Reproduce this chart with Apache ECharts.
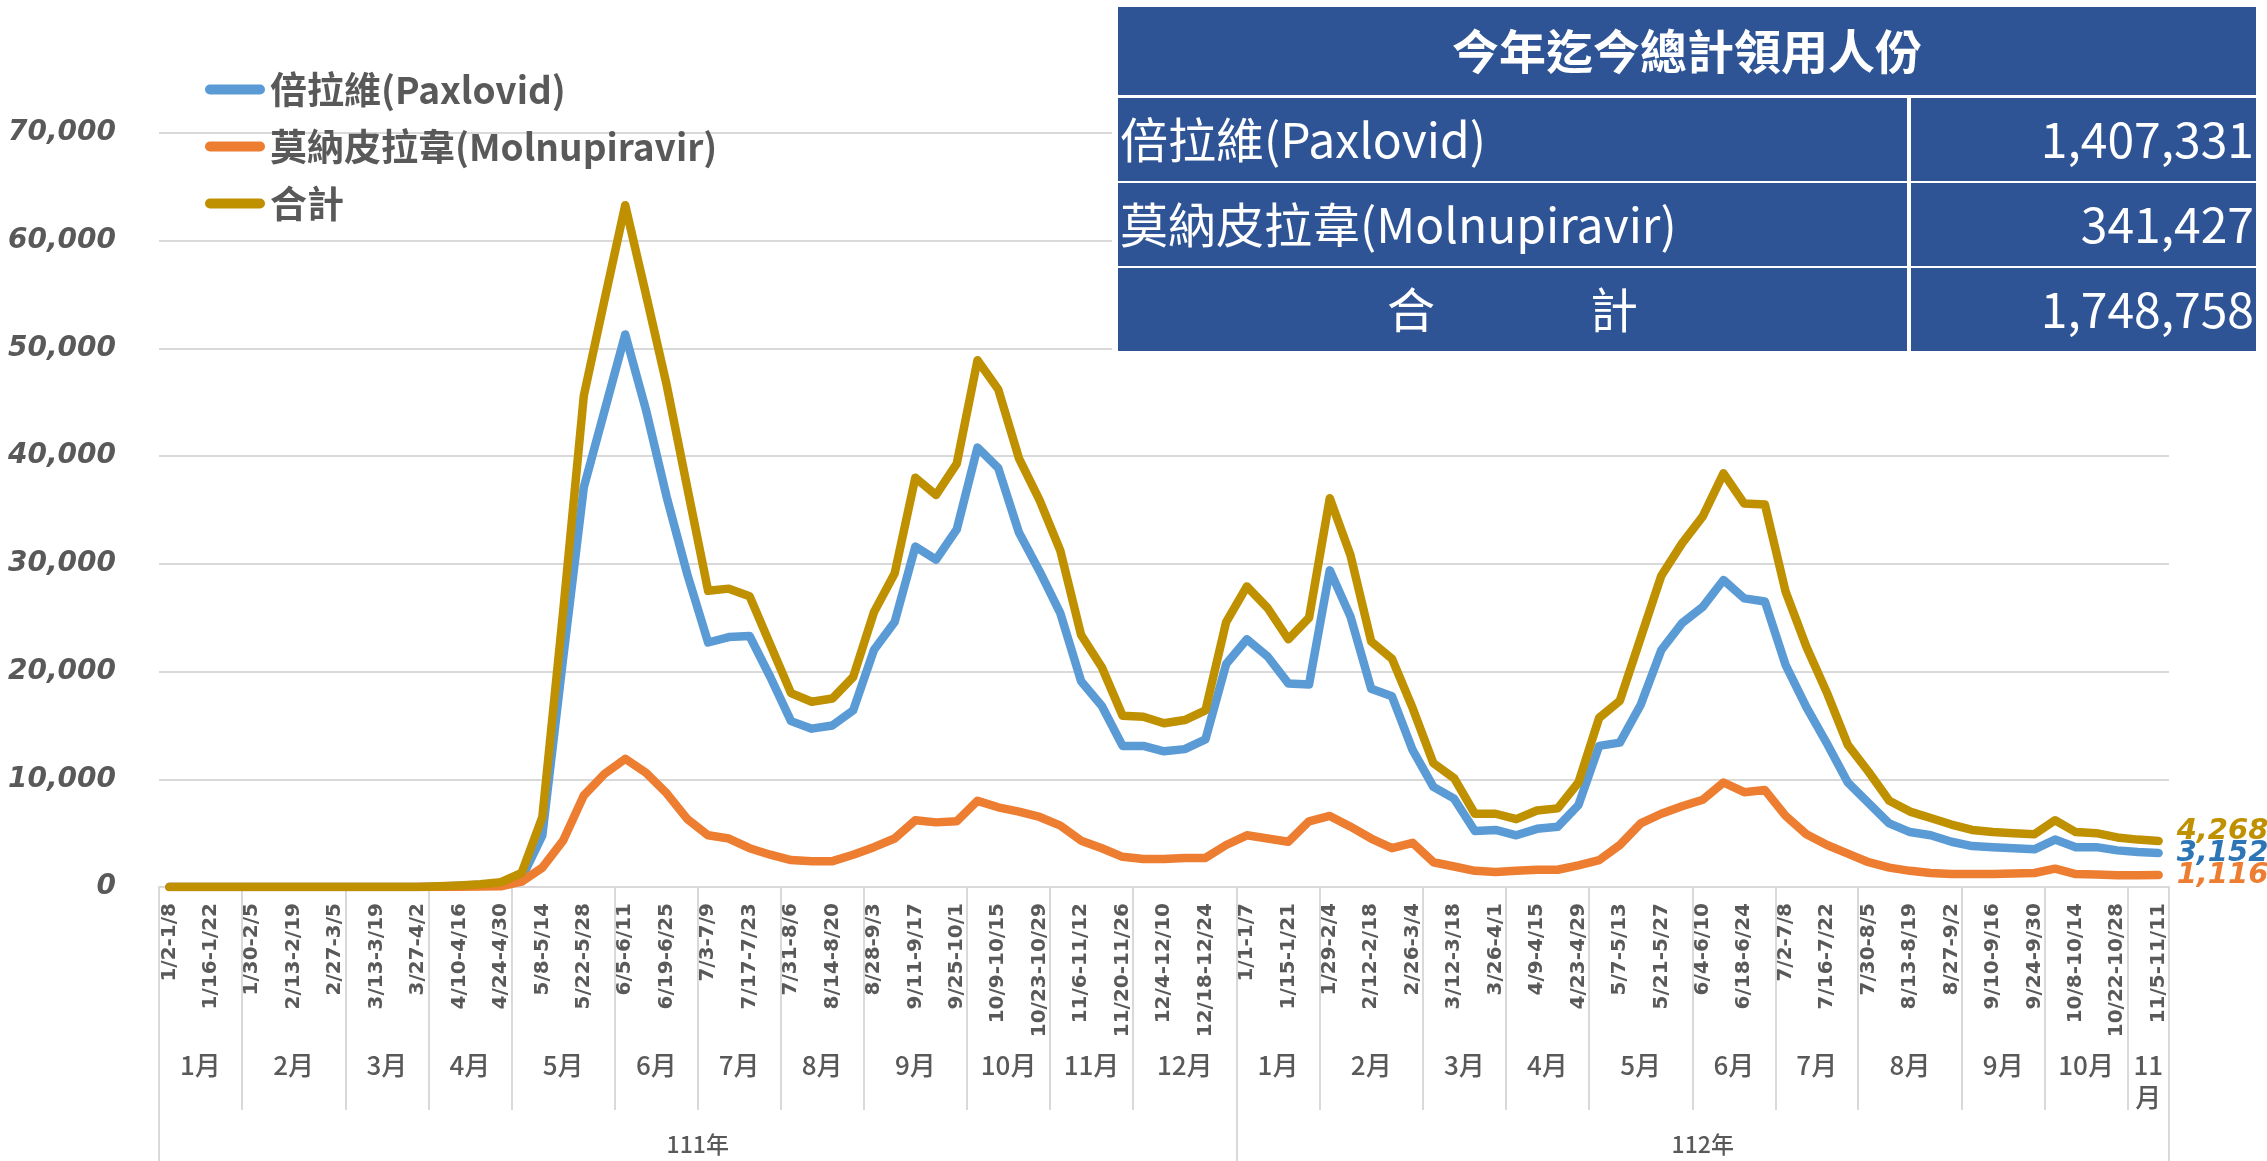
<!DOCTYPE html>
<html lang="zh-Hant">
<head>
    <meta charset="UTF-8">
    <title>抗病毒口服藥領用人份</title>
    <script src="https://cdn.jsdelivr.net/npm/echarts@6/dist/echarts.min.js"></script>
    <style>
        html, body {
            margin: 0;
            padding: 0;
            background: #fff;
        }
        #chart {
            width: 2267px;
            height: 1161px;
        }
    </style>
</head>
<body>
    <div id="chart"></div>
    <script>
        // 每週區間 (111年 1/2 起至 112年 11/11)
        const weeks = [
            '1/2-1/8', '1/9-1/15', '1/16-1/22', '1/23-1/29', '1/30-2/5', '2/6-2/12', '2/13-2/19', '2/20-2/26',
            '2/27-3/5', '3/6-3/12', '3/13-3/19', '3/20-3/26', '3/27-4/2', '4/3-4/9', '4/10-4/16', '4/17-4/23',
            '4/24-4/30', '5/1-5/7', '5/8-5/14', '5/15-5/21', '5/22-5/28', '5/29-6/4', '6/5-6/11', '6/12-6/18',
            '6/19-6/25', '6/26-7/2', '7/3-7/9', '7/10-7/16', '7/17-7/23', '7/24-7/30', '7/31-8/6', '8/7-8/13',
            '8/14-8/20', '8/21-8/27', '8/28-9/3', '9/4-9/10', '9/11-9/17', '9/18-9/24', '9/25-10/1', '10/2-10/8',
            '10/9-10/15', '10/16-10/22', '10/23-10/29', '10/30-11/5', '11/6-11/12', '11/13-11/19', '11/20-11/26', '11/27-12/3',
            '12/4-12/10', '12/11-12/17', '12/18-12/24', '12/25-12/31',
            '1/1-1/7', '1/8-1/14', '1/15-1/21', '1/22-1/28', '1/29-2/4', '2/5-2/11', '2/12-2/18', '2/19-2/25',
            '2/26-3/4', '3/5-3/11', '3/12-3/18', '3/19-3/25', '3/26-4/1', '4/2-4/8', '4/9-4/15', '4/16-4/22',
            '4/23-4/29', '4/30-5/6', '5/7-5/13', '5/14-5/20', '5/21-5/27', '5/28-6/3', '6/4-6/10', '6/11-6/17',
            '6/18-6/24', '6/25-7/1', '7/2-7/8', '7/9-7/15', '7/16-7/22', '7/23-7/29', '7/30-8/5', '8/6-8/12',
            '8/13-8/19', '8/20-8/26', '8/27-9/2', '9/3-9/9', '9/10-9/16', '9/17-9/23', '9/24-9/30', '10/1-10/7',
            '10/8-10/14', '10/15-10/21', '10/22-10/28', '10/29-11/4', '11/5-11/11'
        ];

        // 月份分組 (每組週數)
        const monthNames = ['1月', '2月', '3月', '4月', '5月', '6月', '7月', '8月', '9月', '10月', '11月', '12月',
            '1月', '2月', '3月', '4月', '5月', '6月', '7月', '8月', '9月', '10月', '11月'];
        const monthWeeks = [4, 5, 4, 4, 5, 4, 4, 4, 5, 4, 4, 5,
            4, 5, 4, 4, 5, 4, 4, 5, 4, 4, 2];

        // 年度分組
        const yearNames = ['111年', '112年'];
        const yearWeeks = [52, 45];

        const paxlovid = [
            0, 0, 0, 0, 0, 0, 0, 0, 0, 0, 0, 0, 0, 50, 120, 200,
            380, 800, 4800, 21200, 37100, 44200, 51300, 44300, 36200, 29000, 22700, 23200, 23300, 19500, 15400, 14700,
            15000, 16400, 22000, 24600, 31600, 30400, 33200, 40800, 38900, 32900, 29300, 25400, 19100, 16800, 13100, 13100,
            12600, 12800, 13700, 20700,
            23000, 21400, 18900, 18800, 29400, 25100, 18400, 17700, 12700, 9300, 8200, 5200, 5300, 4800, 5400, 5600,
            7600, 13100, 13400, 16900, 22000, 24500, 26000, 28500, 26800, 26500, 20600, 16700, 13300, 9700, 7800, 5900,
            5100, 4800, 4200, 3800, 3700, 3600, 3500, 4400, 3700, 3700, 3400, 3250, 3152
        ];
        const molnupiravir = [
            0, 0, 0, 0, 0, 0, 0, 0, 0, 0, 0, 0, 0, 10, 20, 40,
            60, 500, 1800, 4300, 8500, 10500, 11900, 10600, 8700, 6300, 4800, 4500, 3600, 3000, 2500, 2400,
            2400, 3000, 3700, 4500, 6200, 6000, 6100, 8000, 7400, 7000, 6500, 5700, 4300, 3600, 2800, 2600,
            2600, 2700, 2700, 3900,
            4800, 4500, 4200, 6100, 6600, 5600, 4500, 3600, 4100, 2300, 1900, 1500, 1400, 1500, 1600, 1600,
            2000, 2500, 3900, 5900, 6800, 7500, 8100, 9700, 8800, 9000, 6600, 4900, 3900, 3100, 2300, 1800,
            1500, 1300, 1200, 1200, 1200, 1250, 1300, 1700, 1200, 1150, 1100, 1100, 1116
        ];
        const total = [
            0, 0, 0, 0, 0, 0, 0, 0, 0, 0, 0, 0, 0, 60, 150, 250,
            450, 1300, 6500, 25500, 45600, 54500, 63300, 55000, 46600, 37000, 27500, 27700, 27000, 22500, 18000, 17200,
            17500, 19500, 25500, 29100, 38000, 36400, 39300, 48900, 46200, 39800, 35900, 31200, 23400, 20400, 15900, 15800,
            15200, 15500, 16400, 24600,
            27900, 25900, 23000, 25000, 36100, 30800, 22800, 21200, 16600, 11500, 10100, 6800, 6800, 6300, 7100, 7300,
            9700, 15700, 17300, 23100, 28900, 31900, 34400, 38400, 35600, 35500, 27400, 22300, 18000, 13200, 10700, 8000,
            7000, 6400, 5800, 5300, 5100, 5000, 4900, 6200, 5100, 5000, 4600, 4400, 4268
        ];

        // 右上角統計表
        const tableTitle = '今年迄今總計領用人份';
        const tableNames = ['倍拉維(Paxlovid)', '莫納皮拉韋(Molnupiravir)', '合　　　 計'];
        const tableValues = [1407331, 341427, 1748758];

        const seriesNames = ['倍拉維(Paxlovid)', '莫納皮拉韋(Molnupiravir)', '合計'];
        const lineColors = ['#5B9BD5', '#ED7D31', '#BF9000'];
        const endLabelColors = ['#2E75B6', '#ED7D31', '#BF9000'];

        const fmt = v => Number(v).toLocaleString('en-US');
        const cjk = "'Noto Sans CJK TC', 'Noto Sans CJK SC', sans-serif";
        const gray = '#595959';
        const gridColor = '#D9D9D9';

        // 以半週為單位的刻度點, 用於月份及年度分組軸
        const halfSlots = [];
        for (let i = 0; i <= weeks.length * 2; i++) halfSlots.push(String(i));

        function buildGroups(names, sizes) {
            const labels = {};
            const edges = new Set([0]);
            let start = 0;
            names.forEach((name, k) => {
                labels[2 * start + sizes[k]] = sizes[k] <= 2 ? name.replace('月', '\n月') : name;
                start += sizes[k];
                edges.add(2 * start);
            });
            return { labels, edges };
        }
        const monthGroups = buildGroups(monthNames, monthWeeks);
        const yearGroups = buildGroups(yearNames, yearWeeks);

        function groupAxis(groups, tickLength, labelMargin, fontSize) {
            return {
                type: 'category',
                position: 'bottom',
                boundaryGap: false,
                data: halfSlots,
                axisLine: { show: false },
                axisTick: {
                    show: true,
                    interval: i => groups.edges.has(i),
                    length: tickLength,
                    lineStyle: { color: gridColor, width: 2 }
                },
                axisLabel: {
                    interval: i => groups.labels[i] !== undefined,
                    formatter: (v, i) => groups.labels[i] || '',
                    margin: labelMargin,
                    color: gray,
                    fontSize: fontSize,
                    fontWeight: 500,
                    lineHeight: fontSize + 6,
                    fontFamily: cjk
                },
                splitLine: { show: false }
            };
        }

        const grid = { left: 159, right: 98, top: 133, bottom: 274 };

        // 表格圖形
        const tableLeft = 1118, tableRight = 2256, colSplit = 1907;
        const rowTops = [7, 98, 183, 268];
        const rowBottoms = [95, 181, 266, 351];
        const tableBlue = '#2F5496';
        const tableFont = "'Noto Sans CJK TC', 'Open Sans', sans-serif";
        const graphics = [{
            type: 'rect', z: 100,
            shape: { x: tableLeft - 6, y: 0, width: tableRight - tableLeft + 12, height: rowBottoms[3] + 6 },
            style: { fill: '#fff' }
        }, {
            type: 'rect', z: 101,
            shape: { x: tableLeft, y: rowTops[0], width: tableRight - tableLeft, height: rowBottoms[0] - rowTops[0] },
            style: { fill: tableBlue }
        }, {
            type: 'text', z: 102,
            x: (tableLeft + tableRight) / 2, y: (rowTops[0] + rowBottoms[0]) / 2,
            style: {
                text: tableTitle, fill: '#fff', fontSize: 47, fontWeight: 'bold', fontFamily: tableFont,
                align: 'center', verticalAlign: 'middle', textAlign: 'center', textVerticalAlign: 'middle'
            }
        }];
        tableNames.forEach((name, k) => {
            const top = rowTops[k + 1], bottom = rowBottoms[k + 1];
            const mid = (top + bottom) / 2;
            const isTotal = k === tableNames.length - 1;
            graphics.push({
                type: 'rect', z: 101,
                shape: { x: tableLeft, y: top, width: colSplit - tableLeft, height: bottom - top },
                style: { fill: tableBlue }
            }, {
                type: 'rect', z: 101,
                shape: { x: colSplit + 4, y: top, width: tableRight - colSplit - 4, height: bottom - top },
                style: { fill: tableBlue }
            }, {
                type: 'text', z: 102,
                x: isTotal ? (tableLeft + colSplit) / 2 : tableLeft + 2, y: mid,
                style: {
                    text: name, fill: '#fff', fontSize: 48, fontFamily: tableFont,
                    align: isTotal ? 'center' : 'left', verticalAlign: 'middle',
                    textAlign: isTotal ? 'center' : 'left', textVerticalAlign: 'middle'
                }
            }, {
                type: 'text', z: 102,
                x: tableRight - 2, y: mid,
                style: {
                    text: fmt(tableValues[k]), fill: '#fff', fontSize: 48, fontFamily: tableFont,
                    align: 'right', verticalAlign: 'middle', textAlign: 'right', textVerticalAlign: 'middle'
                }
            });
        });

        const seriesData = [paxlovid, molnupiravir, total];

        const chart = echarts.init(document.getElementById('chart'));
        chart.setOption({
            animation: false,
            backgroundColor: '#fff',
            grid: Object.assign({ outerBoundsMode: 'none', containLabel: false }, grid),
            legend: {
                orient: 'vertical',
                left: 200,
                top: 66,
                itemWidth: 60,
                itemHeight: 11,
                itemGap: 20,
                icon: 'path://M5 0H55A5 5 0 0 1 55 10H5A5 5 0 0 1 5 0Z',
                textStyle: { fontSize: 37, fontWeight: 'bold', color: gray, fontFamily: cjk },
                data: seriesNames
            },
            xAxis: [{
                type: 'category',
                position: 'bottom',
                data: weeks,
                boundaryGap: true,
                axisLine: { show: true, lineStyle: { color: gridColor, width: 2 } },
                axisTick: { show: false },
                axisLabel: {
                    interval: 1,
                    rotate: 90,
                    margin: 16,
                    color: gray,
                    fontSize: 20,
                    fontWeight: 'bold',
                    fontFamily: "'DejaVu Sans', sans-serif"
                },
                splitLine: { show: false }
            },
            groupAxis(monthGroups, 223, 162, 26),
            groupAxis(yearGroups, 274, 243, 23)
            ],
            yAxis: {
                type: 'value',
                min: 0,
                max: 70000,
                interval: 10000,
                axisLine: { show: false },
                axisTick: { show: false },
                axisLabel: {
                    margin: 43,
                    color: gray,
                    fontSize: 28,
                    fontStyle: 'italic',
                    fontWeight: 'bold',
                    fontFamily: "'DejaVu Sans', sans-serif",
                    formatter: v => fmt(v)
                },
                splitLine: { lineStyle: { color: gridColor, width: 2 } }
            },
            series: seriesData.map((data, k) => ({
                name: seriesNames[k],
                type: 'line',
                xAxisIndex: 0,
                data: data,
                showSymbol: false,
                symbol: 'none',
                color: lineColors[k],
                lineStyle: { width: 8.5, color: lineColors[k], join: 'round', cap: 'round' },
                z: 2 + k,
                endLabel: {
                    show: true,
                    formatter: p => fmt(p.value),
                    color: endLabelColors[k],
                    fontSize: 29,
                    fontStyle: 'italic',
                    fontWeight: 'bold',
                    fontFamily: "'DejaVu Sans', sans-serif",
                    distance: 18,
                    offset: k === 2 ? [0, -10] : [0, 0]
                }
            })),
            graphic: graphics
        });
    </script>
</body>
</html>
